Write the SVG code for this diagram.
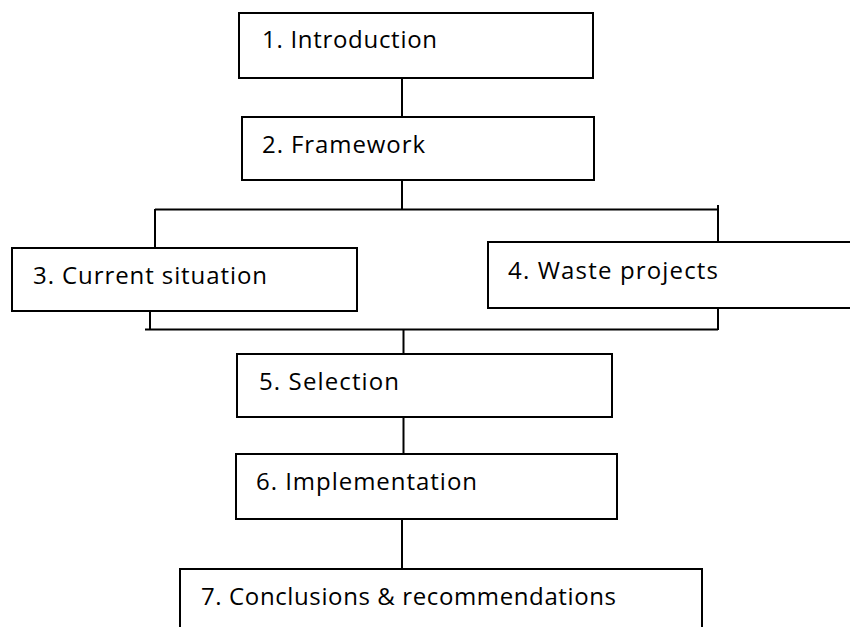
<svg xmlns="http://www.w3.org/2000/svg" width="850" height="627" viewBox="0 0 850 627">
<style>
.box{fill:#fff;stroke:#000;stroke-width:2}
.lbl{font-family:"Open Sans","Noto Sans","DejaVu Sans",sans-serif;font-size:24px;fill:#000}
.con{stroke:#000;stroke-width:2;fill:none}
</style>
<rect width="850" height="627" fill="#fff"/>
<g id="connectors">
<line class="con" x1="402" y1="78" x2="402" y2="117"/>
<line class="con" x1="402" y1="180" x2="402" y2="209.5"/>
<line class="con" x1="155" y1="209.5" x2="718" y2="209.5"/>
<line class="con" x1="155" y1="209" x2="155" y2="248"/>
<line class="con" x1="718" y1="205" x2="718" y2="242"/>
<line class="con" x1="150" y1="308" x2="150" y2="330"/>
<line class="con" x1="718" y1="308" x2="718" y2="330"/>
<line class="con" x1="145" y1="329.5" x2="718" y2="329.5"/>
<line class="con" x1="403.5" y1="329" x2="403.5" y2="354"/>
<line class="con" x1="403.5" y1="417" x2="403.5" y2="454"/>
<line class="con" x1="402" y1="519" x2="402" y2="569"/>
</g>
<g id="n1"><rect class="box" x="239" y="13" width="354" height="65"/><text class="lbl" x="262" y="48" textLength="175">1. Introduction</text></g>
<g id="n2"><rect class="box" x="242" y="117" width="352" height="63"/><text class="lbl" x="262" y="153" textLength="163">2. Framework</text></g>
<g id="n3"><rect class="box" x="12" y="248" width="345" height="63"/><text class="lbl" x="33" y="284" textLength="234">3. Current situation</text></g>
<g id="n4"><rect class="box" x="488" y="242" width="370" height="66"/><text class="lbl" x="508" y="279" textLength="210">4. Waste projects</text></g>
<g id="n5"><rect class="box" x="237" y="354" width="375" height="63"/><text class="lbl" x="259" y="390" textLength="140">5. Selection</text></g>
<g id="n6"><rect class="box" x="236" y="454" width="381" height="65"/><text class="lbl" x="256" y="490" textLength="221">6. Implementation</text></g>
<g id="n7"><rect class="box" x="180" y="569" width="522" height="70"/><text class="lbl" x="201" y="605" textLength="415">7. Conclusions &amp; recommendations</text></g>
</svg>
